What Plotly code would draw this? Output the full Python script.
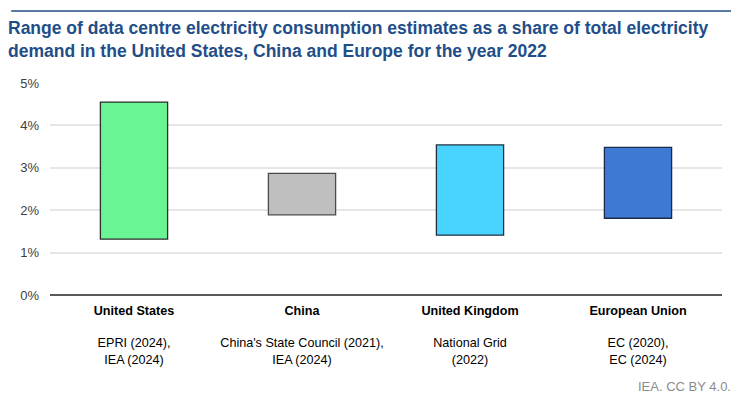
import plotly.graph_objects as go

regions = ["United States", "China", "United Kingdom", "European Union"]
sources = ["EPRI (2024),<br>IEA (2024)", "China's State Council (2021),<br>IEA (2024)",
           "National Grid<br>(2022)", "EC (2020),<br>EC (2024)"]
low = [1.32, 1.89, 1.41, 1.81]
high = [4.55, 2.87, 3.54, 3.48]
colors = ["#69F593", "#BFBFBF", "#48D4FF", "#3E7AD4"]
outlines = ["#2b2b2b", "#4a4a4a", "#1f2f3f", "#1a2a4a"]
yticks = [0, 1, 2, 3, 4, 5]

ticktext = [f"<b>{r}</b><br><br>{s}" for r, s in zip(regions, sources)]

fig = go.Figure()
fig.add_trace(go.Bar(
    x=regions,
    y=[h - l for h, l in zip(high, low)],
    base=low,
    marker=dict(color=colors, line=dict(color=outlines, width=1.3)),
    width=0.4,
    hoverinfo="skip",
))

# page body has an 8px default margin, so the figure is sized to fit the window
fig.update_layout(
    width=731, height=389,
    margin=dict(l=39, r=17, t=75, b=102),
    plot_bgcolor="white", paper_bgcolor="white",
    showlegend=False,
    font=dict(family="Liberation Sans, Arial, sans-serif", size=13, color="#000000"),
    title=dict(
        text="Range of data centre electricity consumption estimates as a share of total electricity<br>demand in the United States, China and Europe for the year 2022",
        x=0, xref="container", xanchor="left", y=0.933, yanchor="top",
        pad=dict(l=0),
        font=dict(family="Liberation Sans, Arial, sans-serif", size=17.5, color="#1F4E89", weight="bold"),
    ),
    xaxis=dict(
        tickmode="array", tickvals=regions, ticktext=ticktext,
        tickfont=dict(size=12.6, color="#000000"),
        showgrid=False, showline=False, ticks="", ticklabelstandoff=6,
    ),
    yaxis=dict(
        range=[0, 5.0], tickvals=yticks, ticktext=[f"{v}%" for v in yticks],
        tickfont=dict(size=13, color="#404040"),
        showgrid=True, gridcolor="#E6E6E6", gridwidth=1.5,
        zeroline=True, zerolinecolor="#595959", zerolinewidth=1.5,
        showline=False, ticks="", ticklabelstandoff=10,
    ),
)

fig.add_shape(type="line", xref="paper", yref="paper",
              x0=-0.0578, x1=1.025, y0=1.34, y1=1.34,
              line=dict(color="#1F4E89", width=1.5))

fig.add_annotation(text="IEA. CC BY 4.0.", xref="paper", yref="paper",
                   x=1.0163, y=-0.43, xanchor="right", yanchor="middle",
                   showarrow=False, font=dict(size=13, color="#8C8C8C"))

fig.write_html("out.html")
